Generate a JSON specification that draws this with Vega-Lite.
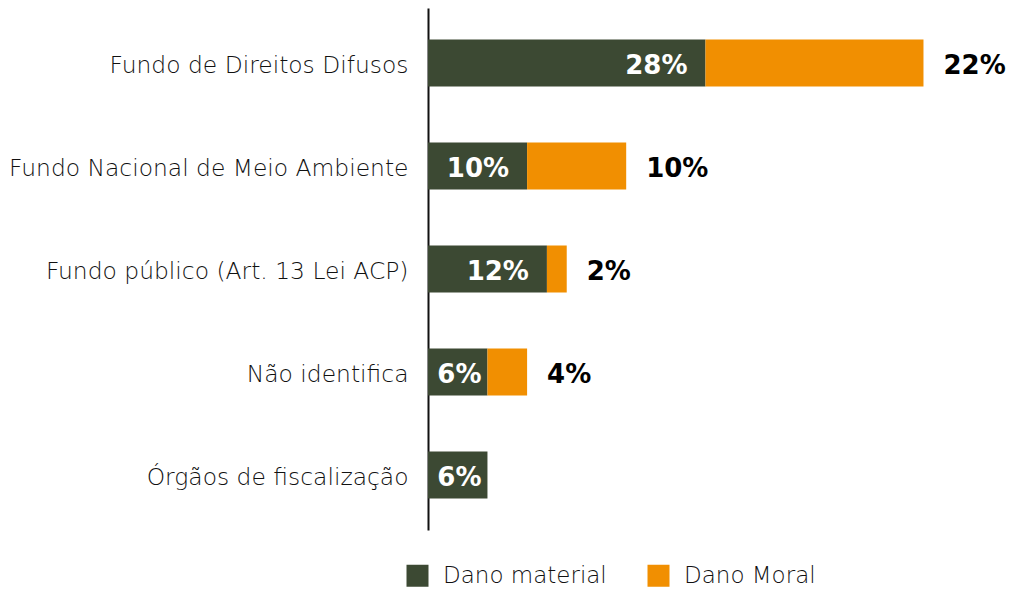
{
  "$schema": "https://vega.github.io/schema/vega-lite/v6.json",
  "autosize": {"type": "none"},
  "padding": {"left": 428, "top": 8, "right": 34, "bottom": 61},
  "width": 548,
  "height": 522,
  "background": "white",
  "config": {"view": {"stroke": null}, "font": "DejaVu Sans"},
  "data": {
    "values": [
      {"destino": "Fundo de Direitos Difusos", "tipo": "Dano material", "valor": 28},
      {"destino": "Fundo de Direitos Difusos", "tipo": "Dano Moral", "valor": 22},
      {"destino": "Fundo Nacional de Meio Ambiente", "tipo": "Dano material", "valor": 10},
      {"destino": "Fundo Nacional de Meio Ambiente", "tipo": "Dano Moral", "valor": 10},
      {"destino": "Fundo público (Art. 13 Lei ACP)", "tipo": "Dano material", "valor": 12},
      {"destino": "Fundo público (Art. 13 Lei ACP)", "tipo": "Dano Moral", "valor": 2},
      {"destino": "Não identifica", "tipo": "Dano material", "valor": 6},
      {"destino": "Não identifica", "tipo": "Dano Moral", "valor": 4},
      {"destino": "Órgãos de fiscalização", "tipo": "Dano material", "valor": 6}
    ]
  },
  "transform": [
    {"stack": "valor", "groupby": ["destino"], "sort": [{"field": "tipo", "order": "descending"}], "as": ["v0", "v1"]},
    {"calculate": "datum.valor + '%'", "as": "rotulo"}
  ],
  "encoding": {
    "y": {
      "field": "destino",
      "type": "nominal",
      "sort": ["Fundo de Direitos Difusos", "Fundo Nacional de Meio Ambiente", "Fundo público (Art. 13 Lei ACP)", "Não identifica", "Órgãos de fiscalização"],
      "scale": {"paddingInner": 0.544, "paddingOuter": 0.306},
      "axis": {
        "title": null,
        "ticks": false,
        "grid": false,
        "domain": true,
        "domainColor": "#111111",
        "domainWidth": 2,
        "labelFont": "DejaVu Sans",
        "labelFontWeight": 200,
        "labelFontSize": 23.4,
        "labelColor": "#111111",
        "labelPadding": 20,
        "labelOffset": 3,
        "labelLimit": 440
      }
    }
  },
  "layer": [
    {
      "mark": {"type": "bar"},
      "encoding": {
        "x": {"field": "v0", "type": "quantitative", "scale": {"domain": [0, 55.3], "nice": false, "zero": true}, "axis": null},
        "x2": {"field": "v1"},
        "color": {
          "field": "tipo",
          "type": "nominal",
          "scale": {"domain": ["Dano material", "Dano Moral"], "range": ["#3c4933", "#f18f01"]},
          "legend": {
            "title": null,
            "orient": "none",
            "direction": "horizontal",
            "legendX": -22,
            "legendY": 556,
            "symbolType": "square",
            "symbolSize": 484,
            "symbolStrokeWidth": 0,
            "symbolOpacity": 1,
            "labelFont": "DejaVu Sans",
            "labelFontWeight": 200,
            "labelFontSize": 23,
            "labelColor": "#111111",
            "labelOffset": 14,
            "columnPadding": 40,
            "labelLimit": 300
          }
        }
      }
    },
    {
      "transform": [{"filter": "datum.tipo == 'Dano material' && datum.valor >= 10"}],
      "mark": {"type": "text", "align": "right", "baseline": "middle", "dx": -18, "dy": 3, "font": "DejaVu Sans", "fontWeight": "bold", "fontSize": 26, "color": "white"},
      "encoding": {
        "x": {"field": "v1", "type": "quantitative"},
        "text": {"field": "rotulo", "type": "nominal"}
      }
    },
    {
      "transform": [{"filter": "datum.tipo == 'Dano material' && datum.valor < 10"}],
      "mark": {"type": "text", "align": "right", "baseline": "middle", "dx": -6, "dy": 3, "font": "DejaVu Sans", "fontWeight": "bold", "fontSize": 26, "color": "white"},
      "encoding": {
        "x": {"field": "v1", "type": "quantitative"},
        "text": {"field": "rotulo", "type": "nominal"}
      }
    },
    {
      "transform": [{"filter": "datum.tipo == 'Dano Moral'"}],
      "mark": {"type": "text", "align": "left", "baseline": "middle", "dx": 20, "dy": 3, "font": "DejaVu Sans", "fontWeight": "bold", "fontSize": 26, "color": "black"},
      "encoding": {
        "x": {"field": "v1", "type": "quantitative"},
        "text": {"field": "rotulo", "type": "nominal"}
      }
    }
  ]
}
